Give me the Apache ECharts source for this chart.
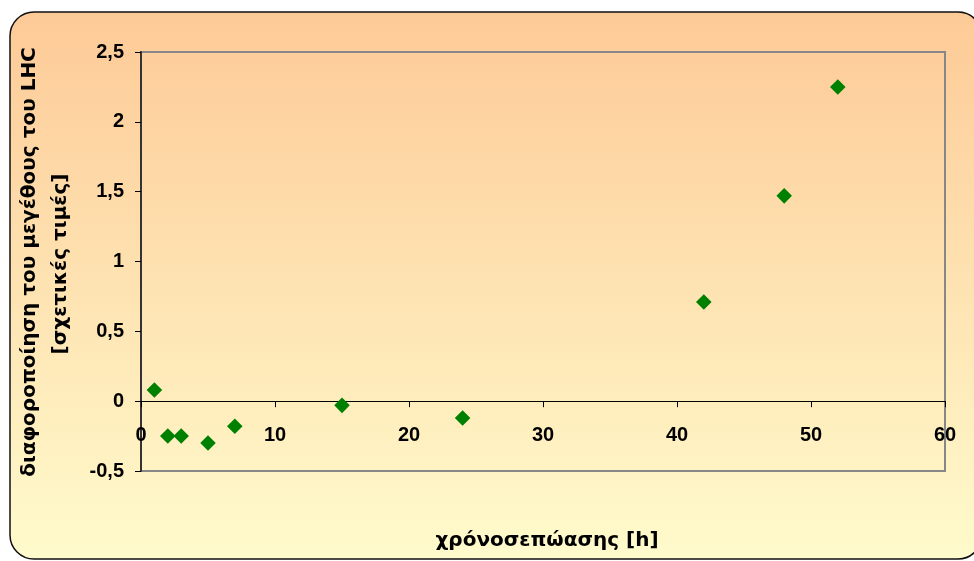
<!DOCTYPE html>
<html>
<head>
<meta charset="utf-8">
<script src="https://cdn.jsdelivr.net/npm/echarts@6/dist/echarts.min.js"></script>
<style>
  html, body { margin: 0; padding: 0; background: #ffffff; }
  #chart { width: 974px; height: 561px; }
</style>
</head>
<body>
<div id="chart"></div>
<script>
// Incubation time (h) and relative change of LHC size
const hours = [1, 2, 3, 5, 7, 15, 24, 42, 48, 52];
const lhcChange = [0.08, -0.25, -0.25, -0.30, -0.18, -0.03, -0.12, 0.71, 1.47, 2.25];

const xTicks = { min: 0, max: 60, interval: 10 };
const yTicks = { min: -0.5, max: 2.5, interval: 0.5 };

const xTitle = 'χρόνοσεπώασης [h]';
const yTitleLines = ['διαφοροποίηση του μεγέθους του LHC', '[σχετικές τιμές]'];

const points = hours.map((h, i) => [h, lhcChange[i]]);
const comma = v => String(v).replace('.', ',');

const tickFont = { fontFamily: 'Liberation Sans, Arial, sans-serif', fontWeight: 'bold', fontSize: 20, color: '#000' };
const titleFont = 'bold 20px "DejaVu Sans", Verdana, sans-serif';

// plot area height in px, used to lift the x axis onto the zero line
const plotTop = 52, plotBottom = 90, chartH = 561;
const plotH = chartH - plotTop - plotBottom;
const zeroLift = -plotH * (0 - yTicks.min) / (yTicks.max - yTicks.min);

const chart = echarts.init(document.getElementById('chart'), null, { renderer: 'canvas' });
chart.setOption({
  animation: false,
  graphic: [
    {
      type: 'rect',
      z: -10,
      shape: { x: 10, y: 12, width: 972, height: 547, r: 24 },
      style: {
        fill: new echarts.graphic.LinearGradient(0, 0, 0, 1, [
          { offset: 0, color: '#FDCA97' },
          { offset: 1, color: '#FFFBCC' }
        ]),
        stroke: '#111',
        lineWidth: 1.5
      }
    },
    {
      type: 'text',
      x: 547, y: 541,
      style: { text: xTitle, font: titleFont, fill: '#000', align: 'center', verticalAlign: 'middle' }
    },
    {
      type: 'text',
      x: 30, y: 262, rotation: Math.PI / 2,
      style: { text: yTitleLines[0], font: titleFont, fill: '#000', align: 'center', verticalAlign: 'middle' }
    },
    {
      type: 'text',
      x: 61, y: 264, rotation: Math.PI / 2,
      style: { text: yTitleLines[1], font: titleFont, fill: '#000', align: 'center', verticalAlign: 'middle' }
    }
  ],
  grid: {
    left: 141, top: plotTop, right: 29, bottom: plotBottom,
    show: true, borderColor: '#878787', borderWidth: 2, backgroundColor: 'transparent'
  },
  xAxis: {
    type: 'value',
    min: xTicks.min, max: xTicks.max, interval: xTicks.interval,
    offset: zeroLift,
    axisLine: { onZero: false, lineStyle: { color: '#000', width: 1 } },
    axisTick: { show: true, inside: false, length: 6, lineStyle: { color: '#000', width: 1 } },
    axisLabel: Object.assign({ margin: 24, formatter: comma }, tickFont),
    splitLine: { show: false }
  },
  yAxis: {
    type: 'value',
    min: yTicks.min, max: yTicks.max, interval: yTicks.interval,
    axisLine: { show: true, onZero: false, lineStyle: { color: '#333', width: 2 } },
    axisTick: { show: true, inside: false, length: 6, lineStyle: { color: '#000', width: 1 } },
    axisLabel: Object.assign({ margin: 17, formatter: comma }, tickFont),
    splitLine: { show: false }
  },
  series: [{
    type: 'scatter',
    data: points,
    symbol: 'rect',
    symbolRotate: 45,
    symbolSize: 11,
    itemStyle: { color: '#008000', opacity: 1 }
  }]
});
</script>
</body>
</html>
